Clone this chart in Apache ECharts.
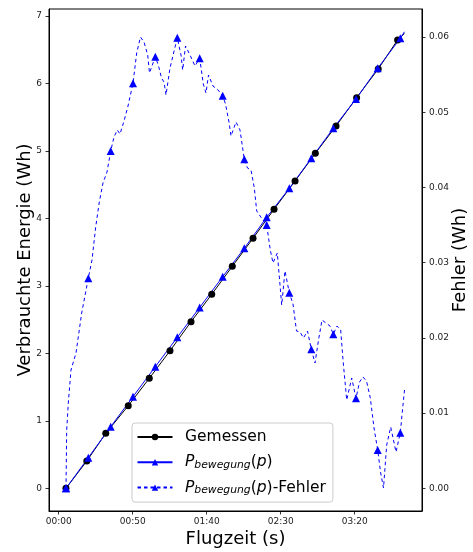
<!DOCTYPE html>
<html><head><meta charset="utf-8">
<script src="https://cdn.jsdelivr.net/npm/echarts@6/dist/echarts.min.js"></script>
<style>html,body{margin:0;padding:0;background:#fff}#c{width:473px;height:552px}</style>
</head><body><div id="c"></div>
<script>
// x tick values (seconds) and labels
const xTicks = [0, 50, 100, 150, 200];
const xTickLabels = ['00:00', '00:50', '01:40', '02:30', '03:20'];
const yLeftTicks = [0, 1, 2, 3, 4, 5, 6, 7];
const yRightTicks = [0, 0.01, 0.02, 0.03, 0.04, 0.05, 0.06];

// Gemessen (measured energy, Wh)
const measuredTime = [4.9, 19.0, 31.8, 47.0, 61.2, 75.2, 89.4, 103.4, 117.3, 131.3, 145.5, 159.7, 173.4, 187.4, 201.3, 215.9, 229.0, 233.6];
const measuredEnergy = [0, 0.405, 0.815, 1.224, 1.63, 2.038, 2.468, 2.875, 3.29, 3.705, 4.135, 4.555, 4.965, 5.37, 5.79, 6.215, 6.645, 6.74];

// P_bewegung(p) model
const modelTime = [4.93, 20.0, 35.14, 50.2, 65.27, 80.14, 95.27, 110.81, 125.41, 140.54, 155.81, 170.68, 185.55, 200.88, 215.55, 230.82, 233.6];
const modelEnergy = [0, 0.454, 0.913, 1.358, 1.802, 2.238, 2.681, 3.136, 3.557, 4.017, 4.446, 4.891, 5.336, 5.770, 6.225, 6.670, 6.766];

// P_bewegung(p)-Fehler (error, Wh, right axis)
const errTime = [4.93,5.41,6.49,8.31,11.69,15.54, 20.0,22.5,25.0,27.43,29.93,32.64, 35.14,37.37,39.6,41.42,44.13,46.83, 50.2,52.7,55.27,57.64,60.14,61.35, 65.27,67.3,69.46,71.15,72.5,75.2, 80.14,82.64,83.78,85.68,88.72,92.1, 95.27,97.7,99.53,101.22,104.26,107.64, 110.81,112.7,115.07,116.42,119.8,122.5, 125.41,127.57,129.93,132.17,133.79,137.03, 140.54,142.97,144.8,147.7,150.68,152.9, 155.81,158.31,160.68,163.04,165.41,168.11, 170.68,173.18,175.54,177.91,180.61,183.32, 185.55,188.04,190.54,192.1,194.6,197.97, 200.88,203.25,205.61,207.98,210.55,213.05, 215.55,217.44,219.46,221.62,224.33,227.91, 230.82,231.96,233.65];
const errValue = [0,0.00775,0.01134,0.01573,0.01799,0.02331, 0.02793,0.03036,0.03475,0.03807,0.0406,0.04206, 0.04485,0.04672,0.04765,0.04711,0.04884,0.05084, 0.05386,0.05789,0.06001,0.05935,0.05762,0.05523, 0.05739,0.05629,0.05456,0.05403,0.0523,0.05589, 0.05992,0.05762,0.05563,0.05882,0.05762,0.05616, 0.05718,0.05376,0.05257,0.05496,0.0535,0.05297, 0.05221,0.0511,0.04871,0.04685,0.04871,0.04765, 0.04375,0.04259,0.04233,0.03993,0.03688,0.03594, 0.03501,0.03169,0.02996,0.03129,0.02437,0.0289, 0.02601,0.02451,0.02092,0.02078,0.01999,0.02092, 0.01848,0.01666,0.01972,0.02238,0.02198,0.02158, 0.02048,0.02158,0.02105,0.01706,0.01174,0.01467, 0.01197,0.01414,0.0148,0.01427,0.01201,0.00802, 0.00509,0.00217,0.00004,0.00576,0.00815,0.00483, 0.00739,0.00975,0.01307];
const errMarkerEvery = 6;

const FONT = 'DejaVu Sans';
const zip = (a, b) => a.map((v, i) => [v, b[i]]);

const chart = echarts.init(document.getElementById('c'), null, {renderer: 'canvas'});
const axisCommon = {
  axisLine: {show: true, onZero: false, lineStyle: {color: '#000', width: 1}},
  axisTick: {show: true, length: 3.5, inside: false, lineStyle: {color: '#000', width: 0.8}},
  splitLine: {show: false},
  nameMoveOverlap: false,
  nameTextStyle: {fontFamily: FONT, fontSize: 18, color: '#000'}
};
const legendNames = {
  'Gemessen': 'Gemessen',
  'P_bewegung(p)': '{i|P}{sub|bewegung}({i|p})',
  'P_bewegung(p)-Fehler': '{i|P}{sub|bewegung}({i|p})-Fehler'
};
chart.setOption({
  animation: false,
  grid: {left: 49, right: 51, top: 9, bottom: 41, show: true, borderColor: '#000', borderWidth: 1, backgroundColor: 'transparent', outerBoundsMode: 'none'},
  xAxis: Object.assign({}, axisCommon, {
    type: 'value', min: -6.55, max: 245.47,
    name: 'Flugzeit (s)', nameLocation: 'middle', nameGap: 19,
    axisTick: Object.assign({}, axisCommon.axisTick, {customValues: xTicks}),
    axisLabel: {customValues: xTicks, fontFamily: FONT, fontSize: 9, color: '#222', margin: 6,
      formatter: v => xTickLabels[xTicks.indexOf(v)] || ''}
  }),
  yAxis: [
    Object.assign({}, axisCommon, {
      type: 'value', min: -0.336, max: 7.104, position: 'left',
      name: 'Verbrauchte Energie (Wh)', nameLocation: 'middle', nameGap: 15,
      axisTick: Object.assign({}, axisCommon.axisTick, {customValues: yLeftTicks}),
      axisLabel: {customValues: yLeftTicks, fontFamily: FONT, fontSize: 9, color: '#222', margin: 7, formatter: v => String(v)}
    }),
    Object.assign({}, axisCommon, {
      type: 'value', min: -0.003019, max: 0.06374, position: 'right',
      name: 'Fehler (Wh)', nameLocation: 'middle', nameGap: 29,
      axisTick: Object.assign({}, axisCommon.axisTick, {customValues: yRightTicks}),
      axisLabel: {customValues: yRightTicks, fontFamily: FONT, fontSize: 9, color: '#222', margin: 7, formatter: v => v.toFixed(2)}
    })
  ],
  legend: {
    orient: 'vertical', left: 132, top: 423,
    padding: [5.5, 7, 6, 4.5], itemGap: 8.3, itemWidth: 35, itemHeight: 8,
    backgroundColor: 'rgba(255,255,255,0.8)', borderColor: '#cccccc', borderWidth: 1, borderRadius: 3,
    data: ['Gemessen', 'P_bewegung(p)', 'P_bewegung(p)-Fehler'],
    formatter: n => legendNames[n],
    textStyle: {fontFamily: FONT, fontSize: 15.5, color: '#000', lineHeight: 17, padding: [0, 0, 0, 7.5],
      rich: {
        i: {fontFamily: FONT, fontSize: 15.5, fontStyle: 'italic', lineHeight: 17},
        sub: {fontFamily: FONT, fontSize: 10.8, fontStyle: 'italic', lineHeight: 9, verticalAlign: 'bottom'}
      }}
  },
  series: [
    {
      name: 'Gemessen', type: 'line', xAxisIndex: 0, yAxisIndex: 0,
      data: zip(measuredTime, measuredEnergy),
      symbol: 'circle', showAllSymbol: true,
      symbolSize: (v, p) => p.dataIndex < measuredTime.length - 1 ? 7 : 0,
      lineStyle: {color: '#000', width: 1}, itemStyle: {color: '#000'},
      emphasis: {disabled: true}
    },
    {
      name: 'P_bewegung(p)', type: 'line', xAxisIndex: 0, yAxisIndex: 0,
      data: zip(modelTime, modelEnergy),
      symbol: 'triangle', showAllSymbol: true,
      symbolSize: (v, p) => p.dataIndex < modelTime.length - 1 ? 8 : 0,
      lineStyle: {color: '#0000ff', width: 1}, itemStyle: {color: '#0000ff'},
      emphasis: {disabled: true}
    },
    {
      name: 'P_bewegung(p)-Fehler', type: 'line', xAxisIndex: 0, yAxisIndex: 1,
      data: zip(errTime, errValue),
      symbol: 'triangle', showAllSymbol: true,
      symbolSize: (v, p) => (p.dataIndex % errMarkerEvery === 0 && p.dataIndex <= 90) ? 8 : 0,
      lineStyle: {color: '#0000ff', width: 1, type: [3.5, 3]}, itemStyle: {color: '#0000ff'},
      emphasis: {disabled: true}
    }
  ]
});
</script></body></html>
